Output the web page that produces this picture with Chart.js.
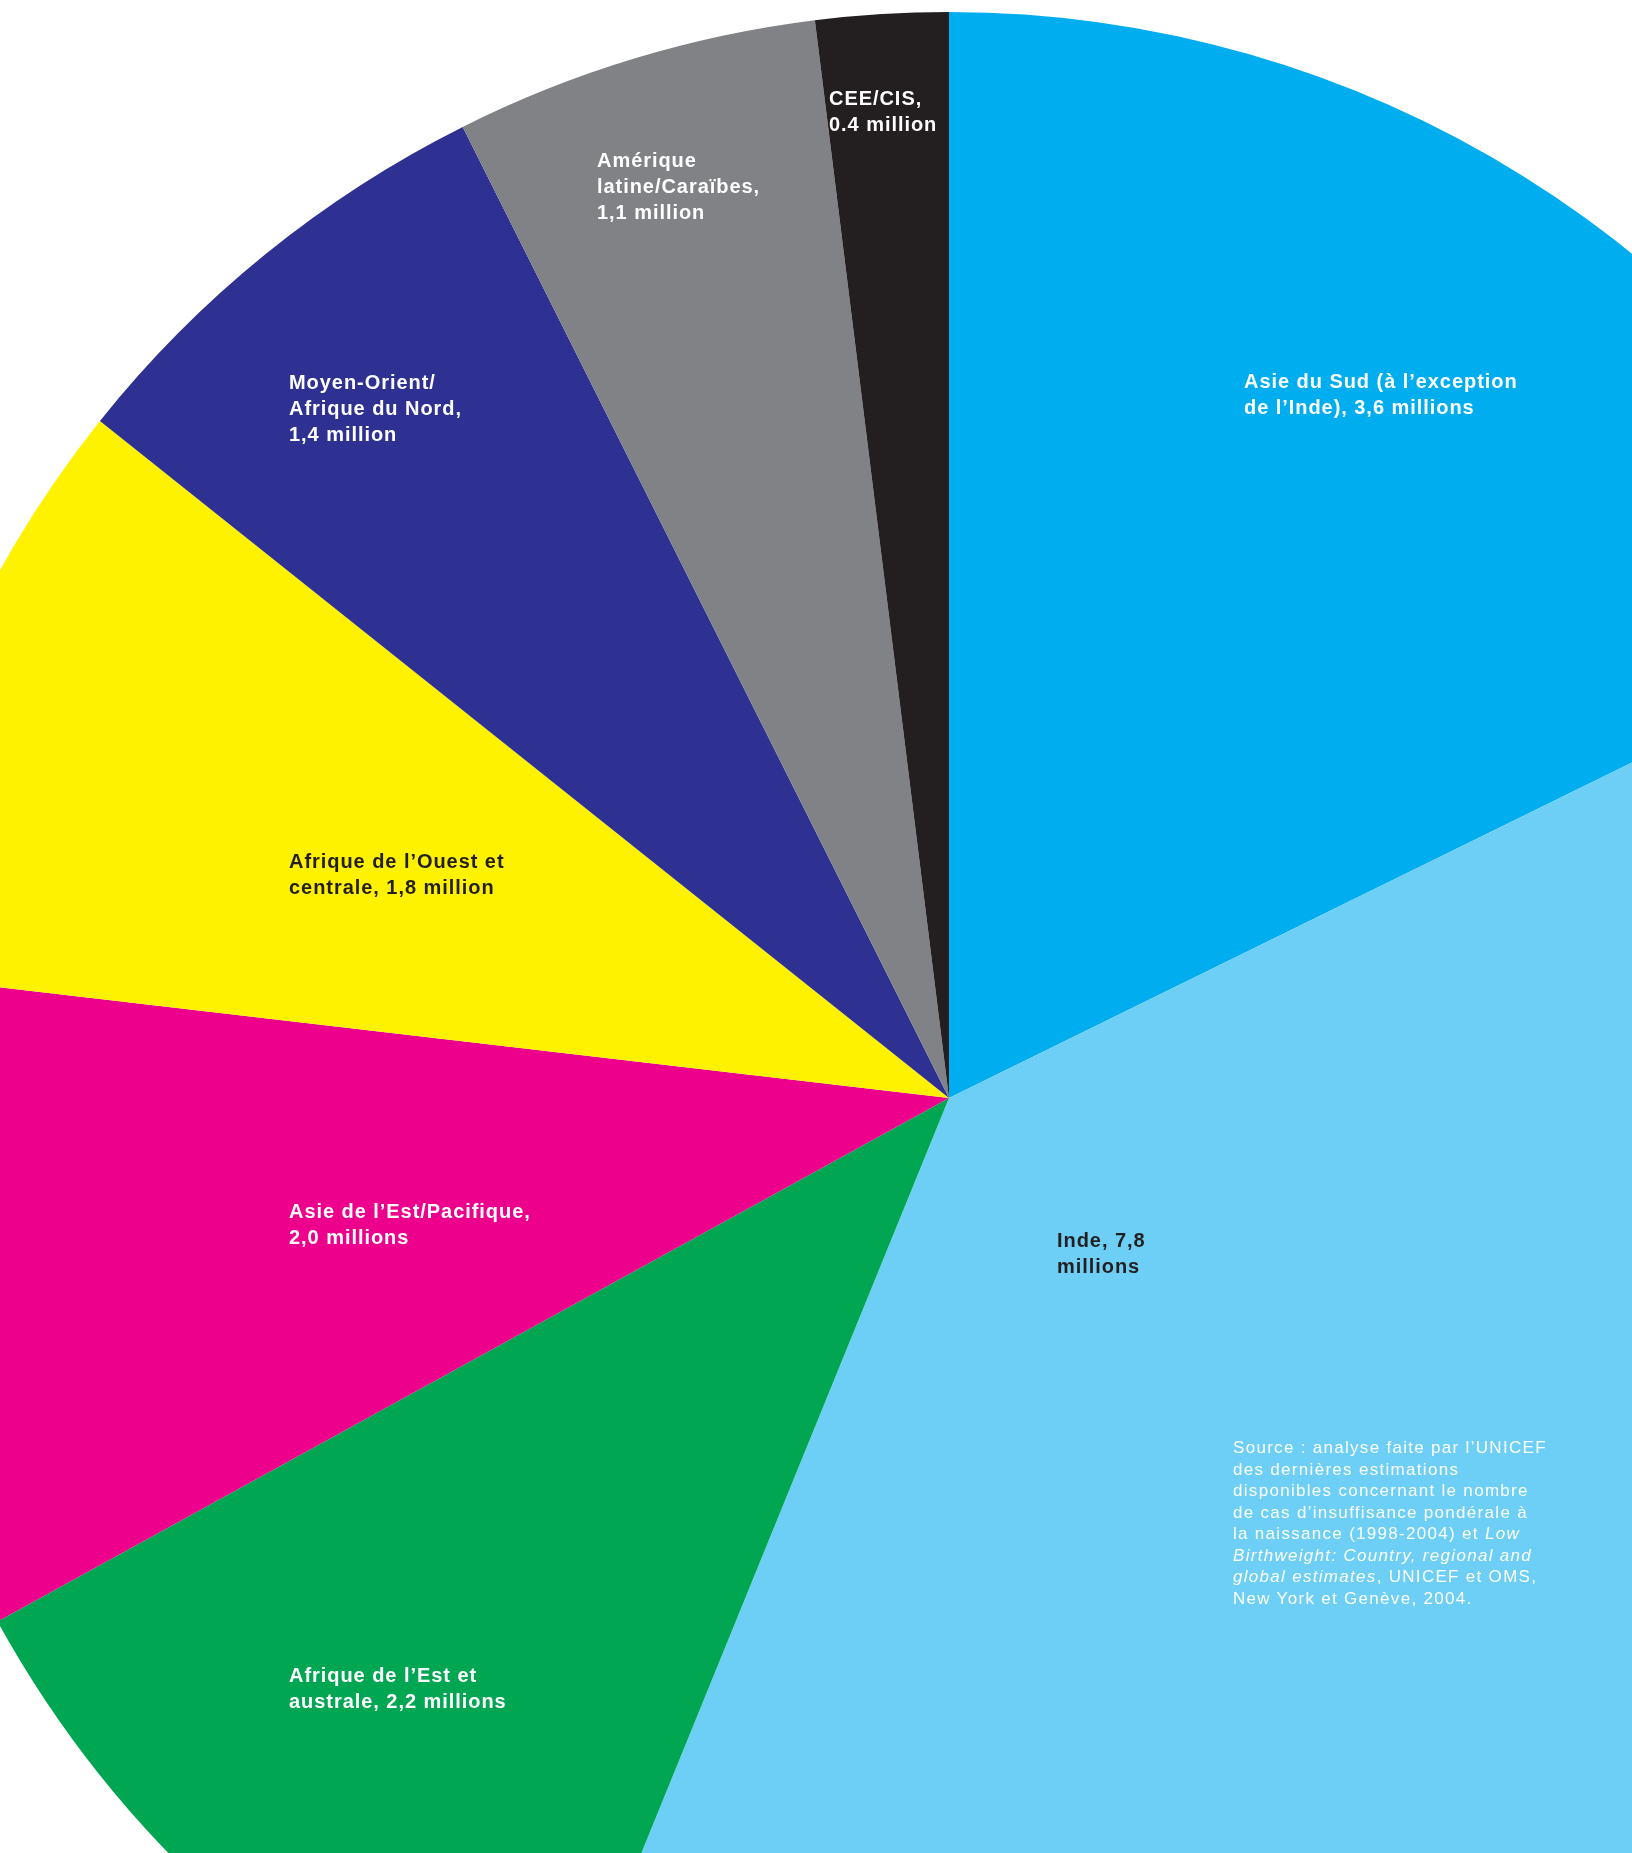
<!DOCTYPE html>
<html>
<head>
<meta charset="utf-8">
<script src="https://cdn.jsdelivr.net/npm/chart.js@4"></script>
<style>
  html, body { margin: 0; padding: 0; background: #fff; overflow: hidden; }
  #wrap { position: relative; width: 1632px; height: 1853px; overflow: hidden; }
  #c { position: absolute; left: -151px; top: -2px; }
  .lbl { position: absolute; font-family: "Liberation Sans", Arial, sans-serif; font-weight: bold;
         font-size: 20px; line-height: 26px; white-space: nowrap; letter-spacing: 0.95px; }
  .src { position: absolute; font-family: "Liberation Sans", Arial, sans-serif; font-weight: normal;
         font-size: 17px; line-height: 21.5px; color: #fff; white-space: nowrap; letter-spacing: 1.3px; }
</style>
</head>
<body>
<div id="wrap">
  <canvas id="c" width="2200" height="2200"></canvas>
</div>
<script>
const categories = [
  "Asie du Sud (à l’exception de l’Inde)",
  "Inde",
  "Afrique de l’Est et australe",
  "Asie de l’Est/Pacifique",
  "Afrique de l’Ouest et centrale",
  "Moyen-Orient/Afrique du Nord",
  "Amérique latine/Caraïbes",
  "CEE/CIS"
];
const values = [3.6, 7.8, 2.2, 2.0, 1.8, 1.4, 1.1, 0.4];
const colors = ["#00AEEF", "#6DCFF6", "#00A651", "#EC008C", "#FFF200", "#2E3192", "#808285", "#231F20"];
const labelLines = [
  ["Asie du Sud (à l’exception", "de l’Inde), 3,6 millions"],
  ["Inde, 7,8", "millions"],
  ["Afrique de l’Est et", "australe, 2,2 millions"],
  ["Asie de l’Est/Pacifique,", "2,0 millions"],
  ["Afrique de l’Ouest et", "centrale, 1,8 million"],
  ["Moyen-Orient/", "Afrique du Nord,", "1,4 million"],
  ["Amérique", "latine/Caraïbes,", "1,1 million"],
  ["CEE/CIS,", "0.4 million"]
];
const labelColors = ["#fff", "#231F20", "#fff", "#fff", "#231F20", "#fff", "#fff", "#fff"];
const labelPos = [[1244, 368], [1057, 1227], [289, 1662], [289, 1198], [289, 848], [289, 369], [597, 147], [829, 85]];
const sourceHtml = "Source : analyse faite par l’UNICEF<br>des dernières estimations<br>disponibles concernant le nombre<br>de cas d’insuffisance pondérale à<br>la naissance (1998-2004) et <i>Low</i><br><i>Birthweight: Country, regional and</i><br><i>global estimates</i>, UNICEF et OMS,<br>New York et Genève, 2004.";

new Chart(document.getElementById("c"), {
  type: "pie",
  data: {
    labels: categories,
    datasets: [{ data: values, backgroundColor: colors, borderWidth: 0, hoverOffset: 0 }]
  },
  options: {
    responsive: false,
    devicePixelRatio: 1,
    animation: false,
    layout: { padding: 14 },
    events: [],
    plugins: { legend: { display: false }, tooltip: { enabled: false } }
  }
});

const wrap = document.getElementById("wrap");
labelLines.forEach((lines, i) => {
  const d = document.createElement("div");
  d.className = "lbl";
  d.style.left = labelPos[i][0] + "px";
  d.style.top = labelPos[i][1] + "px";
  d.style.color = labelColors[i];
  d.innerHTML = lines.join("<br>");
  wrap.appendChild(d);
});
const s = document.createElement("div");
s.className = "src";
s.style.left = "1233px";
s.style.top = "1437px";
s.innerHTML = sourceHtml;
wrap.appendChild(s);
</script>
</body>
</html>
